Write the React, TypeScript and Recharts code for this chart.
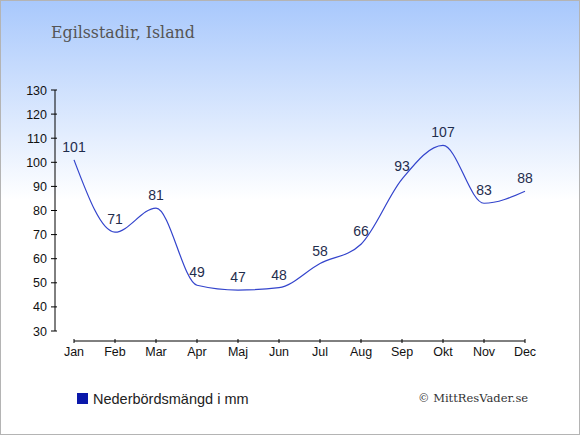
import { LineChart, Line, XAxis, YAxis, ReferenceLine, LabelList } from "recharts"

// Monthly precipitation, Egilsstadir
const months = ["Jan", "Feb", "Mar", "Apr", "Maj", "Jun", "Jul", "Aug", "Sep", "Okt", "Nov", "Dec"]
const precipitation = [101, 71, 81, 49, 47, 48, 58, 66, 93, 107, 83, 88]
const yTicks = [30, 40, 50, 60, 70, 80, 90, 100, 110, 120, 130]

const data = months.map((month, i) => ({ month, value: precipitation[i] }))

const sans = "'Liberation Sans', Arial, sans-serif"
const serif = "'DejaVu Serif', serif"

const YTick = (props: any) => {
  const { x, y, payload } = props
  return (
    <g>
      <line x1={x + 4} x2={x + 10} y1={y} y2={y} stroke="#000" />
      <text x={x} y={y} dy={4.5} textAnchor="end" fontSize={12.5} fontFamily={sans} fill="#111">
        {payload.value}
      </text>
    </g>
  )
}

const XTick = (props: any) => {
  const { x, y, payload } = props
  return (
    <g>
      <line x1={x} x2={x} y1={y + 8} y2={y + 12} stroke="#000" />
      <text x={x} y={y + 25} textAnchor="middle" fontSize={12.5} fontFamily={sans} fill="#111">
        {payload.value}
      </text>
    </g>
  )
}

export default function App() {
  return (
    <div
      style={{
        position: "fixed",
        top: 0,
        left: 0,
        width: 580,
        height: 435,
        background: "linear-gradient(to bottom, #a8c8fc 0px, #ffffff 200px)",
      }}
    >
      <LineChart width={580} height={435} data={data} margin={{ top: 90, right: 36, bottom: 64, left: 0 }}>
        <XAxis
          dataKey="month"
          axisLine={false}
          tickLine={false}
          tickSize={0}
          tickMargin={0}
          height={40}
          padding={{ left: 19, right: 19 }}
          tick={<XTick />}
          interval={0}
        />
        <YAxis
          domain={[30, 130]}
          ticks={yTicks}
          width={55}
          tickLine={false}
          tickSize={0}
          tickMargin={8}
          axisLine={{ stroke: "#000" }}
          tick={<YTick />}
          interval={0}
        />
        <ReferenceLine
          segment={[
            { x: "Jan", y: 25.85 },
            { x: "Dec", y: 25.85 },
          ]}
          stroke="#000"
          ifOverflow="visible"
        />
        <Line
          type="monotone"
          dataKey="value"
          stroke="#3344cc"
          strokeWidth={1.2}
          dot={false}
          isAnimationActive={false}
        >
          <LabelList dataKey="value" position="top" offset={8} fontSize={14} fontFamily={sans} fill="#1f2d4d" />
        </Line>
      </LineChart>
      <svg width={580} height={435} style={{ position: "absolute", top: 0, left: 0, pointerEvents: "none" }}>
        <rect x={0.5} y={0.5} width={579} height={434} fill="none" stroke="#b4b4b4" />
        <text x={51} y={38} fontSize={15.8} fontFamily={serif} fill="#555">
          Egilsstadir, Island
        </text>
        <rect x={77} y={393} width={11} height={11} fill="#0a18aa" />
        <text x={93} y={404} fontSize={14.5} fontFamily={sans} fill="#222">
          Nederbördsmängd i mm
        </text>
        <text x={418} y={402} fontSize={11.5} fontFamily={serif} fill="#333">
          © MittResVader.se
        </text>
      </svg>
    </div>
  )
}
